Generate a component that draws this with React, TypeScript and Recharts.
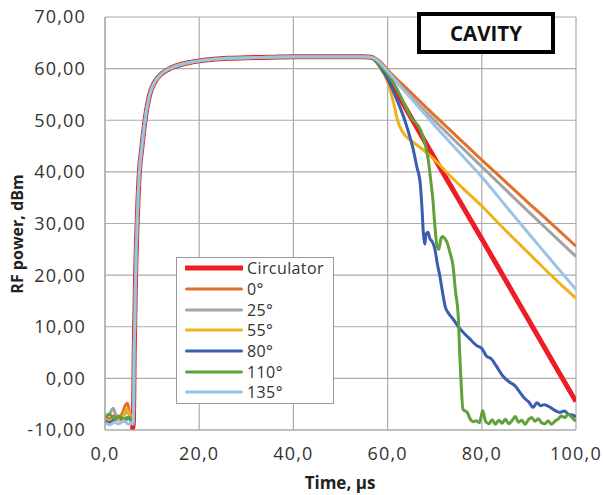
import React from 'react';
import { LineChart, Line, XAxis, YAxis, CartesianGrid, Legend } from 'recharts';

// ---- data ----
const seriesNames = ['Circulator', '0°', '25°', '55°', '80°', '110°', '135°'];
const seriesColors = ['#ee1c25', '#e0702a', '#a3a3a3', '#f0b21a', '#3a5db0', '#62a03c', '#9cc2e5'];

const xTicks = [0, 20, 40, 60, 80, 100];
const yTicks = [-10, 0, 10, 20, 30, 40, 50, 60, 70];

// shared rising edge + flat top (all series overlap here)
const riseT = [6.2, 6.5, 6.9, 7.3, 7.8, 8.5, 9.5, 10.5, 12, 14, 16, 18, 20, 23, 26, 30, 35, 40, 45, 50, 55, 56.5];
const riseV = [5, 20, 32, 40, 44.5, 50, 55, 57.3, 59, 60.1, 60.8, 61.2, 61.5, 61.8, 62.0, 62.1, 62.2, 62.3, 62.3, 62.3, 62.3, 62.2];

// noise before the pulse
const circulatorPreT = [5.6, 5.9, 6.05];
const circulatorPreV = [-10, -9.5, -8];
const deg0PreT = [0, 1, 2, 3, 3.8, 4.3, 4.8, 5.2, 5.6, 6.0];
const deg0PreV = [-7.5, -7.8, -7.2, -7.6, -6.5, -5.2, -4.8, -6.8, -8, -8.5];
const deg25PreT = [0, 1, 1.7, 2.3, 3, 4, 5, 5.6, 6.0];
const deg25PreV = [-7.2, -6.8, -5.8, -7.0, -7.5, -7.0, -6.6, -7.5, -8.2];
const deg55PreT = [0, 1, 2, 3, 4, 4.6, 5, 5.6, 6.0];
const deg55PreV = [-8, -8.3, -7.8, -8.1, -7.2, -6, -6.5, -8, -8.6];
const deg80PreT = [0, 1, 2, 3, 4, 5, 5.6, 6.0];
const deg80PreV = [-8.3, -8.6, -8.0, -7.4, -8.3, -7.6, -8.4, -8.8];
const deg110PreT = [0, 1, 2, 3, 4, 5, 5.6, 6.0];
const deg110PreV = [-7.6, -7.0, -7.8, -7.3, -7.9, -7.5, -8, -8.6];
const deg135PreT = [0, 1, 2, 3, 4, 5, 5.6, 6.0];
const deg135PreV = [-8.6, -9.0, -8.5, -8.8, -8.2, -8.9, -8.5, -8.9];

// decay after the pulse
const circulatorDecayT = [57.5, 58.5, 59.5, 60.5, 65, 70, 75, 80, 85, 90, 95, 100];
const circulatorDecayV = [61.7, 60.6, 59.2, 57.6, 50.5, 42.6, 34.8, 27, 19.1, 11.2, 3.3, -4.5];
const deg0DecayT = [57.5, 58.5, 60, 65, 70, 75, 80, 85, 90, 95, 100];
const deg0DecayV = [62, 61.3, 59.8, 55.3, 50.9, 46.6, 42.3, 38.1, 33.9, 29.8, 25.6];
const deg25DecayT = [57.5, 58.5, 60, 65, 70, 75, 80, 85, 90, 95, 100];
const deg25DecayV = [61.8, 61, 59.3, 54.5, 49.9, 45.4, 41, 36.6, 32.2, 27.9, 23.6];
const deg55DecayT = [57.5, 58.5, 59.5, 60.5, 61.2, 62.2, 63, 64, 65.5, 67.5, 70, 73, 76, 80, 84, 88, 91, 94, 97, 100];
const deg55DecayV = [61.5, 60, 58.5, 56, 53.6, 49.7, 48, 46.8, 45.7, 44.3, 42.3, 39.5, 36.8, 33.4, 29.6, 26, 23.3, 20.6, 18, 15.5];
const deg80DecayT = [57.5, 58.5, 60, 61.5, 63.3, 64.5, 65.4, 66.2, 66.9, 67.3, 67.6, 67.9, 68.2, 68.6, 69, 69.4, 70, 70.6, 71.1, 71.7, 72.2, 73, 73.9, 75, 76.3, 77.5, 79, 80, 81, 82, 83, 84.5, 86, 87, 88.1, 89, 90, 90.9, 91.7, 92.5, 93.3, 94.5, 95.5, 96.6, 97.5, 98.5, 99.3, 100];
const deg80DecayV = [61.5, 60.3, 58, 55, 50.9, 47.5, 44.5, 41, 38, 33, 28, 26, 28, 28.3, 27, 26.6, 25.2, 22, 19.8, 16.5, 14, 12.5, 11.5, 10, 8.7, 7.6, 6.3, 5.8, 4.3, 3.8, 2.5, 0.4, -0.8, -1.4, -2.7, -3.8, -4.6, -5.6, -4.7, -5.3, -5.1, -5.6, -6.2, -6.6, -6.3, -7.0, -7.1, -7.5];
const deg110DecayT = [57.5, 58.5, 60, 62, 63.3, 65, 66.9, 67.8, 68.6, 69.2, 69.6, 70, 70.5, 70.9, 71.3, 71.7, 72.2, 72.6, 73.2, 73.9, 74.4, 75, 75.3, 75.6, 76, 76.9, 77.5, 78.2, 78.8, 79.5, 80.2, 80.8, 81.5, 82.2, 82.9, 83.6, 84.3, 85, 85.7, 86.4, 87.1, 87.8, 88.5, 89.2, 89.9, 90.6, 91.3, 92, 92.7, 93.4, 94.1, 94.8, 95.5, 96.2, 96.9, 97.6, 98.3, 99, 99.6, 100];
const deg110DecayV = [61.6, 60.6, 59, 56, 53.6, 50.5, 48.3, 46, 42.5, 38, 34.8, 30, 25.6, 25, 27, 27.5, 27, 26.4, 24.5, 21.7, 17, 12, 5, -0.8, -6, -6.6, -7.8, -8.4, -8.2, -8.6, -6.2, -8.3, -8.8, -8.0, -8.9, -8.1, -8.7, -7.9, -8.8, -8.2, -7.4, -8.5, -8.1, -8.9, -8.0, -7.6, -8.3, -7.8, -8.6, -8.8, -8.2, -8.9, -8.3, -7.9, -7.3, -7.6, -7.0, -7.4, -8.0, -8.3];
const deg135DecayT = [57.5, 58.5, 60, 65, 70, 75, 80, 85, 90, 95, 100];
const deg135DecayV = [61.8, 61, 59.5, 54.2, 49, 44, 39, 33.5, 28, 22.6, 17.2];

// ---- build point lists ----
function build(preT: number[], preV: number[], decT: number[], decV: number[]) {
  const t = [...preT, ...riseT, ...decT];
  const v = [...preV, ...riseV, ...decV];
  return t.map((x, i) => ({ t: x, v: v[i] }));
}

const seriesData = [
  build(circulatorPreT, circulatorPreV, circulatorDecayT, circulatorDecayV),
  build(deg0PreT, deg0PreV, deg0DecayT, deg0DecayV),
  build(deg25PreT, deg25PreV, deg25DecayT, deg25DecayV),
  build(deg55PreT, deg55PreV, deg55DecayT, deg55DecayV),
  build(deg80PreT, deg80PreV, deg80DecayT, deg80DecayV),
  build(deg110PreT, deg110PreV, deg110DecayT, deg110DecayV),
  build(deg135PreT, deg135PreV, deg135DecayT, deg135DecayV),
];

const FONT = '"Open Sans", "Liberation Sans", sans-serif';
const TEXT = '#333333';
const GRID = '#ababab';

const fmtY = (v: number) => v.toFixed(2).replace('.', ',');
const fmtX = (v: number) => v.toFixed(1).replace('.', ',');

function LegendBox() {
  return (
    <div
      style={{
        border: '1.5px solid #9a9a9a',
        background: '#ffffff',
        padding: '0px 4px 0px 8px',
        width: 158,
        fontFamily: FONT,
        boxSizing: 'border-box',
      }}
    >
      {seriesNames.map((name, i) => (
        <div key={name} style={{ display: 'flex', alignItems: 'center', height: 20.7 }}>
          <svg width={58} height={8} style={{ marginRight: 4 }}>
            <line x1={1.5} y1={4} x2={56.5} y2={4} stroke={seriesColors[i]} strokeWidth={i === 0 ? 5 : 3} strokeLinecap="round" />
          </svg>
          <span style={{ fontSize: 16, color: TEXT, lineHeight: '20px', letterSpacing: 0.4 }}>{name}</span>
        </div>
      ))}
    </div>
  );
}

const YLabel = () => (
  <text
    x={17}
    y={234}
    transform="rotate(-90, 17, 234)"
    textAnchor="middle"
    dominantBaseline="central"
    fontFamily={FONT}
    fontWeight="bold"
    fontSize={16}
    fill="#222"
  >
    RF power, dBm
  </text>
);

const XLabel = () => (
  <text
    x={340}
    y={482}
    textAnchor="middle"
    dominantBaseline="central"
    fontFamily={FONT}
    fontWeight="bold"
    fontSize={17}
    fill="#222"
  >
    Time, µs
  </text>
);

const tickStyle = { fontFamily: FONT, fontSize: 18, fill: TEXT, letterSpacing: 1.2 };

export default function App() {
  return (
    <div style={{ position: 'absolute', left: 0, top: 0, width: 603, height: 495, background: '#fff' }}>
      <LineChart width={603} height={495} margin={{ top: 17, right: 27, bottom: 35, left: 20 }}>
        <CartesianGrid stroke={GRID} strokeWidth={1.2} />
        <XAxis
          type="number"
          dataKey="t"
          domain={[0, 100]}
          ticks={xTicks}
          tickFormatter={fmtX}
          height={30}
          tickSize={0}
          tickMargin={17}
          axisLine={{ stroke: GRID, strokeWidth: 1.2 }}
          tickLine={false}
          tick={tickStyle}
          allowDataOverflow
          label={<XLabel />}
        />
        <YAxis
          type="number"
          domain={[-10, 70]}
          ticks={yTicks}
          tickFormatter={fmtY}
          width={85}
          tickSize={0}
          tickMargin={19}
          axisLine={{ stroke: GRID, strokeWidth: 1.2 }}
          tickLine={false}
          tick={tickStyle}
          allowDataOverflow
          label={<YLabel />}
        />
        <Legend
          layout="vertical"
          align="center"
          verticalAlign="middle"
          content={<LegendBox />}
          wrapperStyle={{ left: 176, top: 257, width: 158, bottom: 'auto', right: 'auto' }}
        />
        {seriesNames.map((name, i) => (
          <Line
            key={name}
            name={name}
            data={seriesData[i]}
            dataKey="v"
            type="monotone"
            stroke={seriesColors[i]}
            strokeWidth={i === 0 ? 5 : 3}
            dot={false}
            activeDot={false}
            isAnimationActive={false}
            strokeLinejoin="round"
          />
        ))}
      </LineChart>
      <div
        style={{
          position: 'absolute',
          left: 417,
          top: 12,
          width: 138,
          height: 42,
          border: '4.5px solid #000',
          boxSizing: 'border-box',
          background: '#fff',
          display: 'flex',
          alignItems: 'center',
          justifyContent: 'center',
          fontFamily: FONT,
          fontWeight: 'bold',
          fontSize: 20.5,
          color: '#111',
        }}
      >
        CAVITY
      </div>
    </div>
  );
}
